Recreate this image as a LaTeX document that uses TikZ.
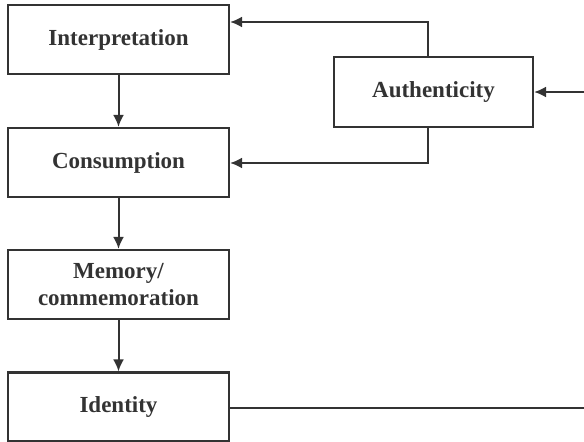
\documentclass[tikz,border=0pt]{standalone}
\usepackage{fontspec}
\setmainfont{Liberation Serif}
\usetikzlibrary{arrows.meta}
\definecolor{ink}{HTML}{333333}
\begin{document}
\begin{tikzpicture}[x=1pt,y=-1pt,
  box/.style={draw=ink,line width=2.2pt,fill=white,minimum width=221pt,minimum height=69pt,inner sep=0pt,align=center,
    font=\fontsize{23}{27}\selectfont\bfseries,text=ink},
  conn/.style={draw=ink,line width=2pt},
  arr/.style={conn,-{Latex[length=12pt,width=11pt]}}]
\useasboundingbox (0,0) rectangle (584,442);
\node[box] (interp) at (118.5,39.5) {Interpretation};
\node[box] (cons) at (118.5,162.5) {Consumption};
\node[box] (mem) at (118.5,284.5) {Memory/\\commemoration};
\node[box] (ident) at (118.5,407) {Identity};
\node[box,minimum width=199pt,minimum height=70pt] (auth) at (433.5,92) {Authenticity};
\coordinate (rin) at (584,92);
\coordinate (rout) at (584,408);
\draw[arr] (interp) -- (cons);
\draw[arr] (cons) -- (mem);
\draw[arr] (mem) -- (ident);
\draw[arr] (auth.north -| 428,0) |- (interp.east |- 0,22);
\draw[arr] (auth.south -| 428,0) |- (cons.east |- 0,163);
\draw[arr] (rin) -- (auth.east);
\draw[conn] (ident.east |- rout) -- (rout);
\end{tikzpicture}
\end{document}
